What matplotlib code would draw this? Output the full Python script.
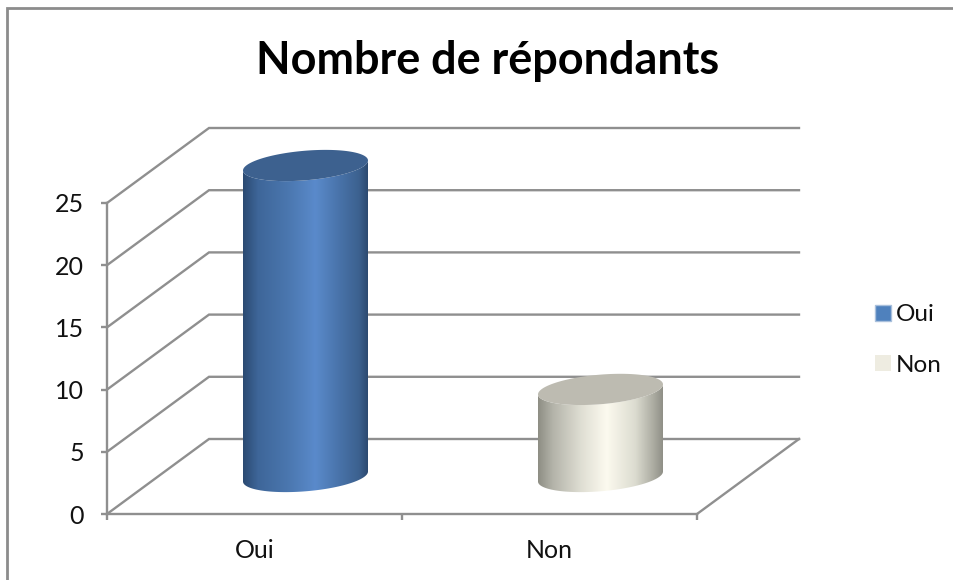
#!/usr/bin/env python3
# -*- coding: utf-8 -*-
"""
    Fake 3D cylinder chart, number of respondents
"""

import numpy as np
import matplotlib
matplotlib.use('Agg')
import matplotlib.pyplot as plt
from matplotlib.lines import Line2D
from matplotlib.patches import Patch, PathPatch, Polygon
from matplotlib.path import Path
from matplotlib.colors import LinearSegmentedColormap

categories = ['Oui', 'Non']
values = [25, 7]
yticks = [0, 5, 10, 15, 20, 25]
title = 'Nombre de répondants'

W, H = 954, 580
GREY = '#8f8f8f'
plt.rcParams['font.family'] = ['Lato', 'DejaVu Sans']

fig = plt.figure(figsize=(W/100, H/100), dpi=100)
ax = fig.add_axes([107/W, (H-514)/H, 590/W, 311/H])

# px to data units
ux = 2/590
uy = 25/311
depth_x = 102*ux
depth_y = 75*uy

cmap_blue = LinearSegmentedColormap.from_list('b', [(0, '#2b4a72'), (0.12, '#3e6699'), (0.35, '#4a76ae'),
                                                    (0.58, '#5a8acb'), (0.78, '#4872a8'), (0.93, '#3c618f'),
                                                    (1, '#2c4a70')])
cmap_grey = LinearSegmentedColormap.from_list('g', [(0, '#8e8e84'), (0.12, '#b4b4aa'), (0.35, '#e0dfd4'),
                                                    (0.55, '#fcfaef'), (0.78, '#dcdcd0'), (0.93, '#aaaaa0'),
                                                    (1, '#909087')])
cmaps = [cmap_blue, cmap_grey]
top_colors = ['#3d618f', '#bdbbb1']
legend_colors = ['#4f81bd', '#eeece1']

# walls and floor
for v in yticks:
    ax.plot([0, depth_x, 2+depth_x], [v, v+depth_y, v+depth_y], color=GREY, lw=1.7,
            clip_on=False, zorder=1, solid_joinstyle='miter')
ax.plot([2, 2+depth_x], [0, depth_y], color=GREY, lw=1.7, clip_on=False, zorder=1)

# cylinders
t = np.linspace(0, 2*np.pi, 181)
rx = 62.5*ux
skew = 5*uy
ry = 14.8*uy
for i, (v, cmap) in enumerate(zip(values, cmaps)):
    cx = i + 0.5 + depth_x/2
    cy = depth_y/2
    ex = rx*np.cos(t)
    ey = skew*np.cos(t) - ry*np.sin(t)
    # t from 0 to pi is the near edge (lower on screen)
    near = t <= np.pi
    body_x = np.r_[cx+ex[near], cx+ex[near][::-1]]
    body_y = np.r_[cy+ey[near], cy+v+ey[near][::-1]]
    body = np.c_[body_x, body_y]
    im = ax.imshow(np.linspace(0, 1, 256).reshape(1, -1), cmap=cmap, aspect='auto',
                   extent=[cx-rx, cx+rx, cy-2, cy+v+2], zorder=3)
    clip = PathPatch(Path(np.r_[body, body[:1]], closed=True), transform=ax.transData)
    im.set_clip_path(clip)
    im.set_clip_box(fig.bbox)
    ax.add_patch(Polygon(np.c_[cx+ex, cy+v+ey], closed=True, facecolor=top_colors[i],
                         edgecolor='none', zorder=4, clip_on=False))

ax.set_xlim(0, 2)
ax.set_ylim(0, 25)
ax.patch.set_alpha(0)

for s in ['top', 'right']:
    ax.spines[s].set_visible(False)
for s in ['left', 'bottom']:
    ax.spines[s].set_color(GREY)
    ax.spines[s].set_linewidth(1.7)
    ax.spines[s].set_zorder(2)

ax.set_yticks(yticks)
ax.set_xticks([0, 1, 2])
ax.set_xticklabels([])
ax.set_xticks([0.5, 1.5], minor=True)
ax.set_xticklabels(categories, minor=True)
ax.tick_params(axis='both', which='major', length=4, width=1.7, color=GREY)
ax.tick_params(axis='x', which='minor', length=0, pad=18, labelsize=18, labelcolor='#111111')
ax.tick_params(axis='y', labelsize=18, labelcolor='#111111', pad=12.5)

fig.text(488/W, 1-61/H, title, ha='center', va='center', fontsize=32.4, fontweight='bold', color='black')

handles = [Patch(facecolor=c, edgecolor='#a9c0dc' if i == 0 else 'none', label=n)
           for i, (c, n) in enumerate(zip(legend_colors, categories))]
fig.legend(handles=handles, loc='center left', bbox_to_anchor=(868/W, 1-340/H), frameon=False,
           fontsize=17.5, handlelength=0.64, handleheight=0.64, handletextpad=0.2,
           labelspacing=1.2, labelcolor='#111111', borderpad=0.3, borderaxespad=0)

# outer frame of the chart, no right or bottom side in the crop
fig.add_artist(Line2D([7/W, 7/W, 1], [0, 1-8/H, 1-8/H], color='#8c8c8c', lw=2,
                      transform=fig.transFigure, solid_joinstyle='miter'))

plt.savefig('out.png', dpi=100)
